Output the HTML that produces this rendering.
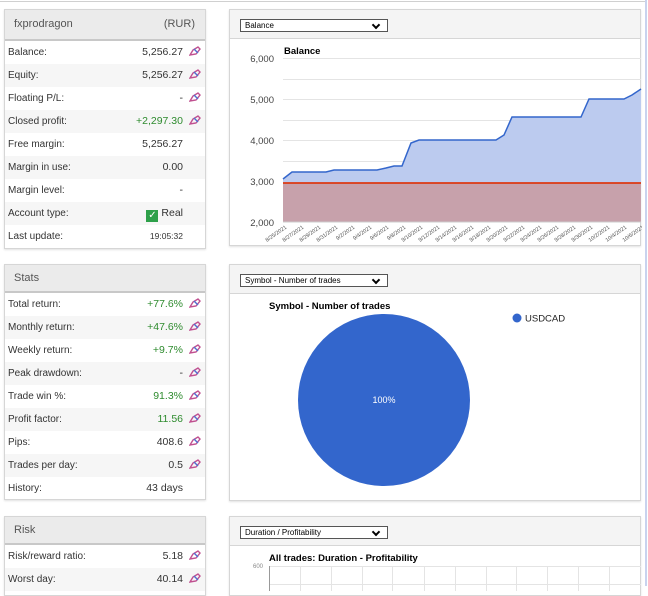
<!DOCTYPE html>
<html><head><meta charset="utf-8"><style>
*{margin:0;padding:0;box-sizing:border-box}
body{width:648px;height:586px;overflow:hidden;background:#fff;font-family:"Liberation Sans","DejaVu Sans",sans-serif;font-size:10px;color:#333;position:relative}
.p{position:absolute;border:1px solid #d6d6d6;background:#fff;box-shadow:0 1px 2px rgba(0,0,0,.12)}
.h{background:#ebebeb;border-bottom:2px solid #c8c8c8;color:#555;font-size:11px;padding-left:9px;position:relative}
.r{height:23px;line-height:23px;position:relative;padding-left:3px;font-size:10px;color:#333}
.r:nth-child(even){background:#f6f6f6}
.v{position:absolute;right:22px;top:0;font-size:10.5px}
.g{color:#2e8b2e}
.ic{position:absolute;right:4px;top:5px;width:12px;height:10px}
.rh{background:#f4f4f4;border-bottom:1px solid #d6d6d6;position:relative}
.dd{position:absolute;left:10px;width:148px;height:13px;border:1px solid #555;background:#fff;font-size:8px;line-height:11px;padding-left:4px;color:#000}
.dd:after{content:"";position:absolute;right:8px;top:2px;width:4px;height:4px;border-right:2px solid #000;border-bottom:2px solid #000;transform:rotate(45deg)}
</style></head><body>
<div style="position:absolute;left:0;top:1px;width:646px;height:1px;background:#d0d0d0"></div>
<div style="position:absolute;left:645px;top:0;width:2px;height:586px;background:#c9d3ee"></div>

<svg width="0" height="0" style="position:absolute"><defs><g id="pen"><path d="M1 9 L4 4 L9 1 L11 3 L7 8 Z" fill="none" stroke="#c05090" stroke-width="1.4"/><path d="M5 3 L9 7" stroke="#5070d0" stroke-width="1.4"/></g></defs></svg>

<!-- Account panel -->
<div class="p" style="left:4px;top:9px;width:202px;height:240px">
<div class="h" style="height:31px;line-height:29px">fxprodragon<span style="position:absolute;right:10px">(RUR)</span></div>
<div>
<div class="r">Balance:<span class="v">5,256.27</span><svg class="ic"><use href="#pen"/></svg></div>
<div class="r">Equity:<span class="v">5,256.27</span><svg class="ic"><use href="#pen"/></svg></div>
<div class="r">Floating P/L:<span class="v">-</span><svg class="ic"><use href="#pen"/></svg></div>
<div class="r">Closed profit:<span class="v g">+2,297.30</span><svg class="ic"><use href="#pen"/></svg></div>
<div class="r">Free margin:<span class="v">5,256.27</span></div>
<div class="r">Margin in use:<span class="v">0.00</span></div>
<div class="r">Margin level:<span class="v">-</span></div>
<div class="r">Account type:<span class="v" style="font-size:10.5px"><span style="display:inline-block;width:12px;height:12px;background:#2ea04a;color:#fff;font-size:10px;line-height:12px;text-align:center;vertical-align:-2px;margin-right:3px">✓</span>Real</span></div>
<div class="r">Last update:<span class="v" style="font-size:8.5px">19:05:32</span></div>
</div></div>

<!-- Stats -->
<div class="p" style="left:4px;top:264px;width:202px;height:236px">
<div class="h" style="height:28px;line-height:26px">Stats</div>
<div>
<div class="r">Total return:<span class="v g">+77.6%</span><svg class="ic"><use href="#pen"/></svg></div>
<div class="r">Monthly return:<span class="v g">+47.6%</span><svg class="ic"><use href="#pen"/></svg></div>
<div class="r">Weekly return:<span class="v g">+9.7%</span><svg class="ic"><use href="#pen"/></svg></div>
<div class="r">Peak drawdown:<span class="v">-</span><svg class="ic"><use href="#pen"/></svg></div>
<div class="r">Trade win %:<span class="v g">91.3%</span><svg class="ic"><use href="#pen"/></svg></div>
<div class="r">Profit factor:<span class="v g">11.56</span><svg class="ic"><use href="#pen"/></svg></div>
<div class="r">Pips:<span class="v">408.6</span><svg class="ic"><use href="#pen"/></svg></div>
<div class="r">Trades per day:<span class="v">0.5</span><svg class="ic"><use href="#pen"/></svg></div>
<div class="r">History:<span class="v">43 days</span></div>
</div></div>

<!-- Risk -->
<div class="p" style="left:4px;top:516px;width:202px;height:80px">
<div class="h" style="height:28px;line-height:26px">Risk</div>
<div>
<div class="r">Risk/reward ratio:<span class="v">5.18</span><svg class="ic"><use href="#pen"/></svg></div>
<div class="r">Worst day:<span class="v">40.14</span><svg class="ic"><use href="#pen"/></svg></div>
</div></div>

<!-- Balance chart -->
<div class="p" style="left:229px;top:9px;width:412px;height:237px">
<div class="rh" style="height:29px"><div class="dd" style="top:9px">Balance</div></div>
<svg width="412" height="207" style="position:absolute;left:0;top:29px" font-family="Liberation Sans,sans-serif">
<g transform="translate(-229,-38)">
<g stroke="#e4e4e4" stroke-width="1"><line x1="282" x2="640" y1="57.5" y2="57.5"/><line x1="282" x2="640" y1="78.5" y2="78.5"/><line x1="282" x2="640" y1="98.5" y2="98.5"/><line x1="282" x2="640" y1="119.5" y2="119.5"/><line x1="282" x2="640" y1="139.5" y2="139.5"/><line x1="282" x2="640" y1="160.5" y2="160.5"/></g>
<polygon fill="#bccbef" points="282,178 291,171 325,171 333,169 376,169 385,167 393,165 401,165 410,142 418,139 495,139 503,134 511,116 580,116 588,98 623,98 631,94 640,88 640,182 282,182"/>
<rect x="282" y="182" width="358" height="39" fill="#c7a1ab"/>
<polyline fill="none" stroke="#3366cc" stroke-width="1.5" points="282,178 291,171 325,171 333,169 376,169 385,167 393,165 401,165 410,142 418,139 495,139 503,134 511,116 580,116 588,98 623,98 631,94 640,88"/>
<line x1="282" x2="640" y1="182" y2="182" stroke="#dc3912" stroke-width="1.8"/>
<line x1="282" x2="640" y1="221" y2="221" stroke="#ccc"/>
<text x="283" y="53" font-size="9.5" font-weight="bold" fill="#000">Balance</text>
<g font-size="9.5" fill="#444" text-anchor="end"><text x="273" y="61">6,000</text><text x="273" y="102">5,000</text><text x="273" y="143">4,000</text><text x="273" y="184">3,000</text><text x="273" y="225">2,000</text></g>
<g font-size="5.5" fill="#555" text-anchor="end">
<text transform="translate(286,227) rotate(-35)">8/25/2021</text><text transform="translate(303,227) rotate(-35)">8/27/2021</text><text transform="translate(320,227) rotate(-35)">8/29/2021</text><text transform="translate(337,227) rotate(-35)">8/31/2021</text><text transform="translate(354,227) rotate(-35)">9/2/2021</text><text transform="translate(371,227) rotate(-35)">9/4/2021</text><text transform="translate(388,227) rotate(-35)">9/6/2021</text><text transform="translate(405,227) rotate(-35)">9/8/2021</text><text transform="translate(422,227) rotate(-35)">9/10/2021</text><text transform="translate(439,227) rotate(-35)">9/12/2021</text><text transform="translate(456,227) rotate(-35)">9/14/2021</text><text transform="translate(473,227) rotate(-35)">9/16/2021</text><text transform="translate(490,227) rotate(-35)">9/18/2021</text><text transform="translate(507,227) rotate(-35)">9/20/2021</text><text transform="translate(524,227) rotate(-35)">9/22/2021</text><text transform="translate(541,227) rotate(-35)">9/24/2021</text><text transform="translate(558,227) rotate(-35)">9/26/2021</text><text transform="translate(575,227) rotate(-35)">9/28/2021</text><text transform="translate(592,227) rotate(-35)">9/30/2021</text><text transform="translate(609,227) rotate(-35)">10/2/2021</text><text transform="translate(626,227) rotate(-35)">10/4/2021</text><text transform="translate(643,227) rotate(-35)">10/6/2021</text>
</g></g></svg>
</div>

<!-- Pie -->
<div class="p" style="left:229px;top:264px;width:412px;height:237px">
<div class="rh" style="height:29px"><div class="dd" style="top:9px">Symbol - Number of trades</div></div>
<svg width="412" height="207" style="position:absolute;left:0;top:29px" font-family="Liberation Sans,sans-serif">
<g transform="translate(-229,-293)">
<text x="268" y="308" font-size="9.5" font-weight="bold" fill="#000">Symbol - Number of trades</text>
<circle cx="383" cy="399" r="86" fill="#3366cc"/>
<text x="383" y="402" font-size="9" fill="#fff" text-anchor="middle">100%</text>
<circle cx="516" cy="317" r="4.5" fill="#3366cc"/>
<text x="524" y="320.5" font-size="9.5" fill="#222">USDCAD</text>
</g></svg>
</div>

<!-- Duration -->
<div class="p" style="left:229px;top:516px;width:412px;height:80px">
<div class="rh" style="height:29px"><div class="dd" style="top:9px">Duration / Profitability</div></div>
<svg width="412" height="50" style="position:absolute;left:0;top:29px" font-family="Liberation Sans,sans-serif">
<g transform="translate(-229,-545)">
<text x="268" y="560" font-size="9.5" font-weight="bold" fill="#000">All trades: Duration - Profitability</text>
<text x="262" y="567" font-size="6" fill="#888" text-anchor="end">600</text>
<g stroke="#e4e4e4"><line x1="268" x2="640" y1="565.5" y2="565.5"/><line x1="268" x2="640" y1="583.5" y2="583.5"/>
<line x1="299.5" x2="299.5" y1="565" y2="590"/><line x1="330.5" x2="330.5" y1="565" y2="590"/><line x1="361.5" x2="361.5" y1="565" y2="590"/><line x1="391.5" x2="391.5" y1="565" y2="590"/><line x1="423.5" x2="423.5" y1="565" y2="590"/><line x1="454.5" x2="454.5" y1="565" y2="590"/><line x1="485.5" x2="485.5" y1="565" y2="590"/><line x1="515.5" x2="515.5" y1="565" y2="590"/><line x1="546.5" x2="546.5" y1="565" y2="590"/><line x1="577.5" x2="577.5" y1="565" y2="590"/><line x1="608.5" x2="608.5" y1="565" y2="590"/></g>
<line x1="268.5" x2="268.5" y1="565" y2="590" stroke="#999"/>
</g></svg>
</div>
</body></html>
